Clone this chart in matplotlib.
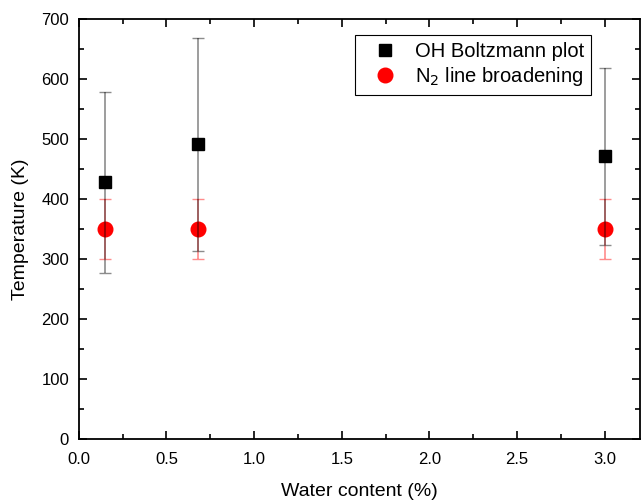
import matplotlib
matplotlib.use("Agg")
import matplotlib.pyplot as plt
from matplotlib.lines import Line2D
from matplotlib.ticker import MultipleLocator

plt.rcParams['font.family'] = ['Liberation Sans', 'DejaVu Sans']

water = [0.15, 0.68, 3.0]
oh_temp = [428, 491, 471]
oh_err = [151, 177, 147]
n2_temp = [350, 350, 350]
n2_err = [50, 50, 50]

fig = plt.figure(figsize=(6.41, 5.0), dpi=100)
ax = fig.add_axes([0.123, 0.122, 0.875, 0.84])

ax.errorbar(water, n2_temp, yerr=n2_err, fmt='o', color='#ff0000', ms=10.5,
            ecolor=(1, 0, 0, 0.45), elinewidth=1.2, capsize=4, capthick=1, zorder=2)
ax.errorbar(water, oh_temp, yerr=oh_err, fmt='s', color='black', ms=9,
            ecolor=(0, 0, 0, 0.45), elinewidth=1.2, capsize=4, capthick=1, zorder=3)

ax.set_xlim(0, 3.2)
ax.set_ylim(0, 700)
ax.xaxis.set_major_locator(MultipleLocator(0.5))
ax.xaxis.set_minor_locator(MultipleLocator(0.25))
ax.yaxis.set_major_locator(MultipleLocator(100))
ax.yaxis.set_minor_locator(MultipleLocator(50))
ax.tick_params(which='both', direction='in', top=True, right=True, labelsize=12, width=1.2)
ax.tick_params(which='major', length=6)
ax.tick_params(which='minor', length=3.5)
ax.tick_params(axis='x', pad=9)
ax.tick_params(axis='y', pad=7)
for s in ax.spines.values():
    s.set_linewidth(1.3)

ax.set_xlabel('Water content (%)', fontsize=14, labelpad=12)
ax.set_ylabel('Temperature (K)', fontsize=14, labelpad=9)

handles = [Line2D([], [], marker='s', ls='none', color='black', ms=9),
           Line2D([], [], marker='o', ls='none', color='#ff0000', ms=10.5)]
leg = ax.legend(handles, ['OH Boltzmann plot', 'N$_2$ line broadening'],
                loc='upper right', bbox_to_anchor=(0.913, 0.962), fontsize=14.5,
                frameon=True, fancybox=False, edgecolor='black', framealpha=1,
                handletextpad=0.3, borderpad=0.35, labelspacing=0.2, handlelength=2.3,
                borderaxespad=0)
leg.get_frame().set_linewidth(0.8)

fig.savefig('out.png', dpi=100)
